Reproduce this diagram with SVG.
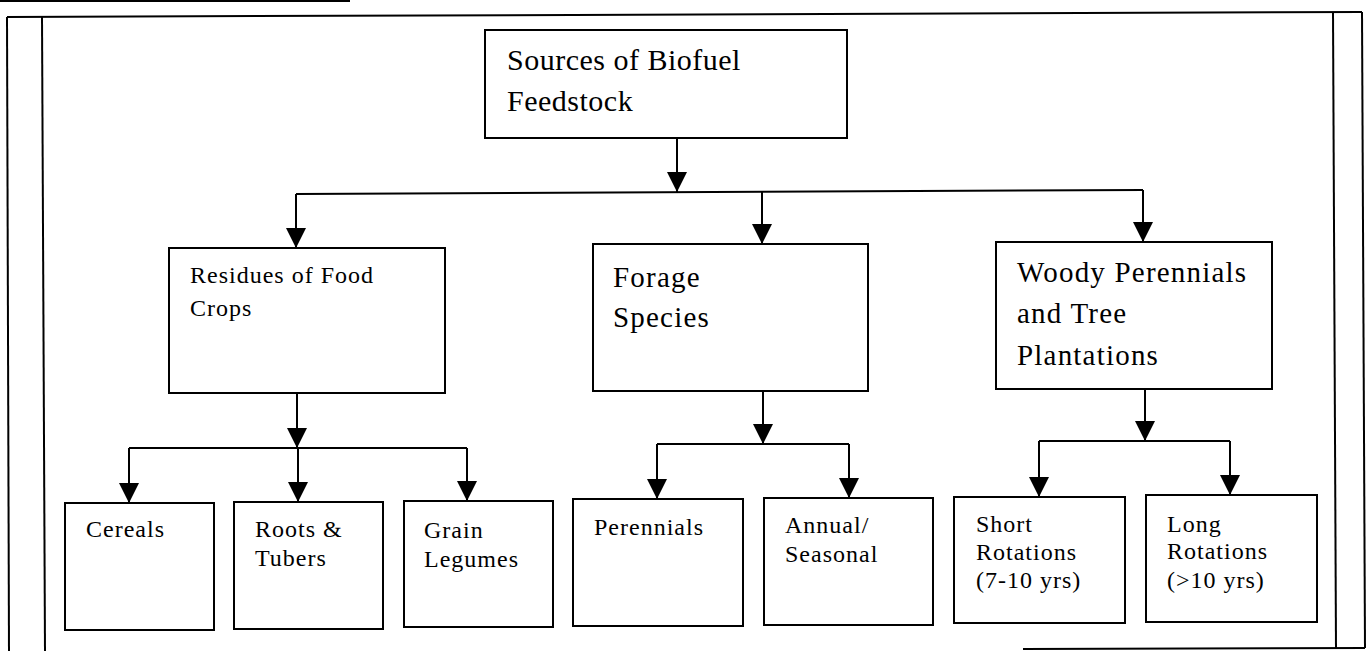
<svg xmlns="http://www.w3.org/2000/svg" width="1369" height="651" viewBox="0 0 1369 651">
<style>
.frame{stroke:#000;stroke-width:2;fill:none}
.box{fill:#fff;stroke:#000;stroke-width:2}
.conn{stroke:#000;stroke-width:2;fill:none}
.arr{stroke:#000;stroke-width:2;fill:none;marker-end:url(#ah)}
text{font-family:"Liberation Serif","Times New Roman",serif;fill:#000}
.s{font-size:24px;letter-spacing:1px}
.m{font-size:29px;letter-spacing:1.2px}
.l{font-size:30px;letter-spacing:0.5px}
</style>
<defs>
<marker id="ah" viewBox="0 0 20 20" refX="20" refY="10" markerWidth="20" markerHeight="20" markerUnits="userSpaceOnUse" orient="auto">
<path d="M0,0 L20,10 L0,20 z" fill="#000"/>
</marker>
</defs>
<rect width="1369" height="651" fill="#fff"/>
<g id="frame">
<line class="frame" x1="0" y1="1" x2="350" y2="1"/>
<line class="frame" x1="7" y1="17" x2="1362" y2="12"/>
<line class="frame" x1="7" y1="17" x2="9" y2="651"/>
<line class="frame" x1="42" y1="17" x2="45" y2="651"/>
<line class="frame" x1="1333" y1="12" x2="1336" y2="649"/>
<line class="frame" x1="1362" y1="12" x2="1365" y2="648"/>
<line class="frame" x1="1023" y1="649" x2="1365" y2="648"/>
</g>
<g id="connectors">
<line class="arr" x1="677" y1="138" x2="677" y2="192"/>
<line class="conn" x1="296" y1="194" x2="1143" y2="190"/>
<line class="arr" x1="296" y1="194" x2="296" y2="248"/>
<line class="arr" x1="762" y1="192" x2="762" y2="244"/>
<line class="arr" x1="1143" y1="190" x2="1143" y2="242"/>
<line class="arr" x1="297" y1="393" x2="297" y2="448"/>
<line class="conn" x1="129" y1="448" x2="467" y2="448"/>
<line class="arr" x1="129" y1="448" x2="129" y2="503"/>
<line class="arr" x1="298" y1="448" x2="298" y2="502"/>
<line class="arr" x1="467" y1="448" x2="467" y2="501"/>
<line class="arr" x1="763" y1="391" x2="763" y2="444"/>
<line class="conn" x1="657" y1="444" x2="849" y2="444"/>
<line class="arr" x1="657" y1="444" x2="657" y2="499"/>
<line class="arr" x1="849" y1="444" x2="849" y2="498"/>
<line class="arr" x1="1145" y1="389" x2="1145" y2="441"/>
<line class="conn" x1="1039" y1="441" x2="1230" y2="441"/>
<line class="arr" x1="1039" y1="441" x2="1039" y2="497"/>
<line class="arr" x1="1230" y1="441" x2="1230" y2="495"/>
</g>
<g id="sources">
<rect class="box" x="485" y="30" width="362" height="108"/>
<text class="l" x="507" y="70">Sources of Biofuel</text>
<text class="l" x="507" y="111">Feedstock</text>
</g>
<g id="residues">
<rect class="box" x="169" y="248" width="276" height="145"/>
<text class="s" x="190" y="283">Residues of Food</text>
<text class="s" x="190" y="316">Crops</text>
</g>
<g id="forage">
<rect class="box" x="593" y="244" width="275" height="147"/>
<text class="m" x="613" y="287">Forage</text>
<text class="m" x="613" y="327">Species</text>
</g>
<g id="woody">
<rect class="box" x="996" y="242" width="276" height="147"/>
<text class="m" x="1017" y="282">Woody Perennials</text>
<text class="m" x="1017" y="323">and Tree</text>
<text class="m" x="1017" y="365">Plantations</text>
</g>
<g id="cereals">
<rect class="box" x="65" y="503" width="149" height="127"/>
<text class="s" x="86" y="537">Cereals</text>
</g>
<g id="roots">
<rect class="box" x="234" y="502" width="149" height="127"/>
<text class="s" x="255" y="537">Roots &amp;</text>
<text class="s" x="255" y="566">Tubers</text>
</g>
<g id="grain">
<rect class="box" x="404" y="501" width="149" height="126"/>
<text class="s" x="424" y="538">Grain</text>
<text class="s" x="424" y="567">Legumes</text>
</g>
<g id="perennials">
<rect class="box" x="573" y="499" width="170" height="127"/>
<text class="s" x="594" y="535">Perennials</text>
</g>
<g id="annual">
<rect class="box" x="764" y="498" width="169" height="127"/>
<text class="s" x="785" y="533">Annual/</text>
<text class="s" x="785" y="562">Seasonal</text>
</g>
<g id="short">
<rect class="box" x="954" y="497" width="171" height="126"/>
<text class="s" x="976" y="532">Short</text>
<text class="s" x="976" y="560">Rotations</text>
<text class="s" x="976" y="588">(7-10 yrs)</text>
</g>
<g id="long">
<rect class="box" x="1146" y="495" width="171" height="127"/>
<text class="s" x="1167" y="532">Long</text>
<text class="s" x="1167" y="559">Rotations</text>
<text class="s" x="1167" y="588">(&gt;10 yrs)</text>
</g>
</svg>
